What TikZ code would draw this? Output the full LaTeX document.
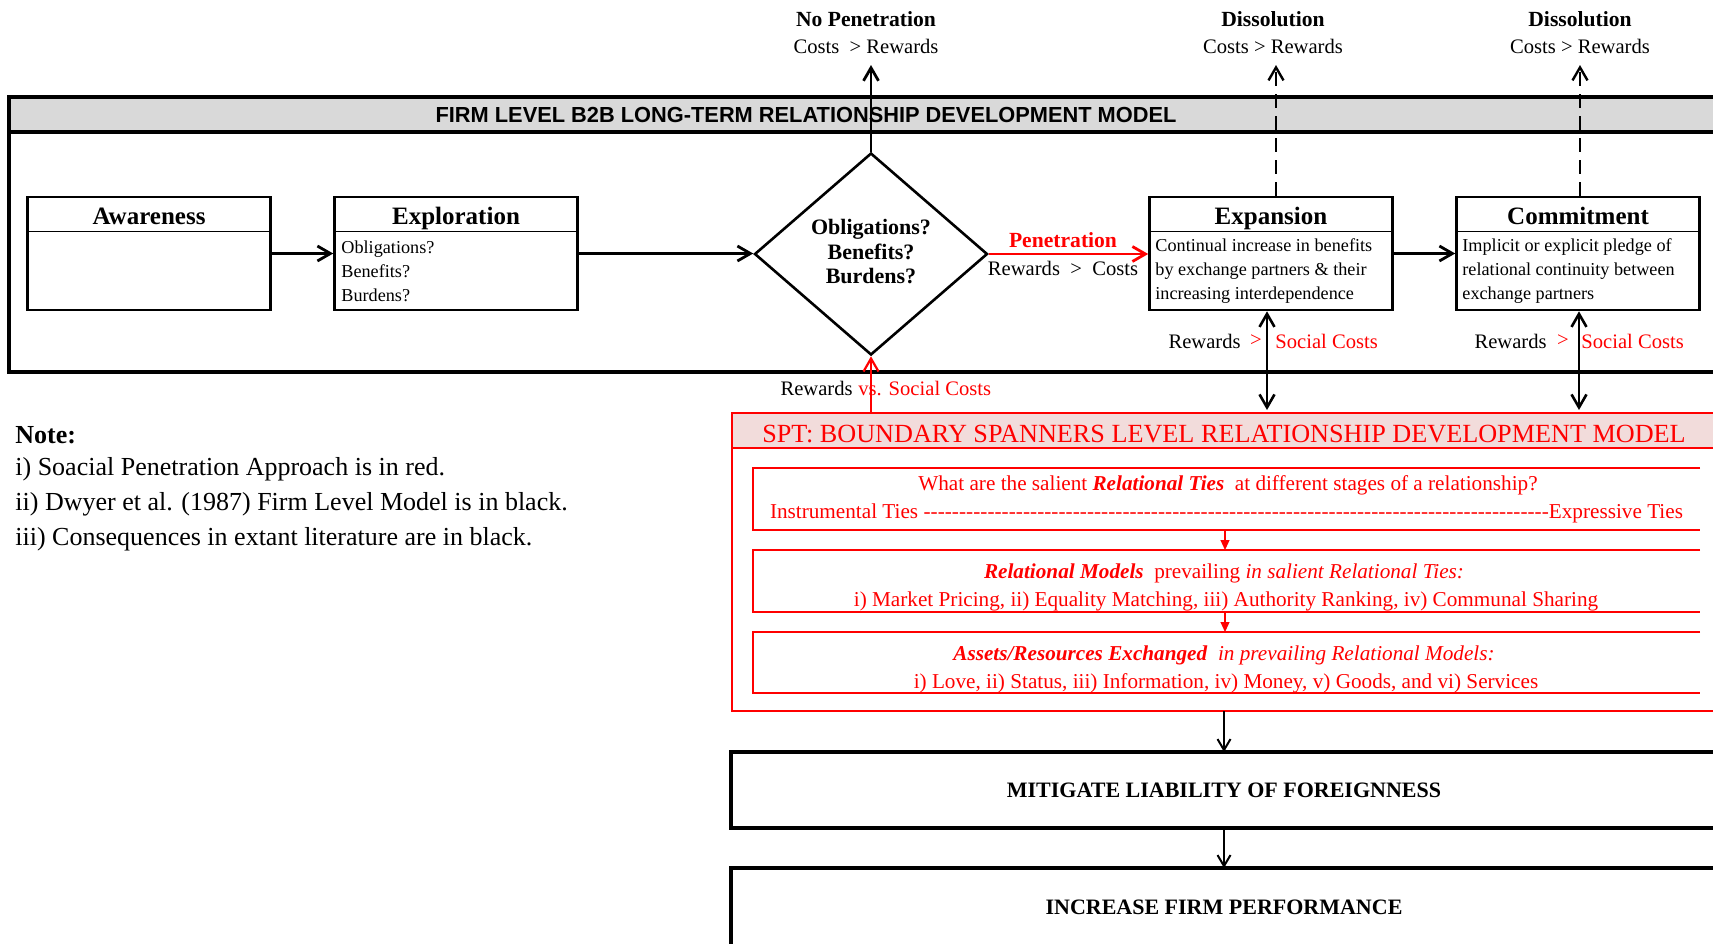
\documentclass[tikz,border=0pt]{standalone}
\usepackage{fontspec}
\setmainfont{Liberation Serif}
\newfontfamily\hdrfont{Liberation Sans}
\usetikzlibrary{arrows.meta,shapes.geometric,calc}

\definecolor{hdrgray}{HTML}{D9D9D9}
\definecolor{hdrpink}{HTML}{F2DCDB}

\tikzset{
  barb/.tip={Straight Barb[length=6.5pt,width=7.5pt]},
  stagebox/.style={draw, line width=1.3pt, minimum width=121.5pt, minimum height=56.5pt, inner sep=0pt},
  flow/.style={line width=1.4pt, -barb},
  redflow/.style={flow, draw=red},
  dual/.style={line width=1.3pt, barb-barb},
  dashup/.style={line width=1.2pt, dash pattern=on 7pt off 4pt, -barb},
  smallred/.style={draw=red, line width=0.6pt, -{Triangle[length=5pt,width=4.5pt]}},
  thinflow/.style={line width=1pt, -{Straight Barb[length=5.5pt,width=6.5pt]}},
  title/.style={font=\bfseries\fontsize{12.5}{14}\selectfont, inner sep=0pt, anchor=base},
  body/.style={font=\fontsize{9.1}{12}\selectfont, align=left, inner sep=0pt, anchor=west},
  lbl/.style={font=\fontsize{10.3}{12}\selectfont, inner sep=0pt},
  boldlbl/.style={font=\bfseries\fontsize{10.8}{12}\selectfont, inner sep=0pt},
  redtxt/.style={text=red, font=\fontsize{10.6}{12}\selectfont, inner sep=0pt},
  notetxt/.style={font=\fontsize{13}{16}\selectfont, anchor=west, inner sep=0pt},
  capbold/.style={font=\bfseries\fontsize{11}{13}\selectfont, inner sep=0pt}
}

\begin{document}
\begin{tikzpicture}[x=0.5pt,y=-0.5pt]
\useasboundingbox (0,0) rectangle (1713,943);

% ---------- firm level frame ----------
\fill[hdrgray] (9,97) rectangle (1730,132);
\draw[line width=1.6pt] (1730,97) -- (9,97) -- (9,372) -- (1730,372);
\draw[line width=1.6pt] (9,132) -- (1730,132);
\node[inner sep=0pt, font=\hdrfont\bfseries\fontsize{10.9}{13}\selectfont] (firmhdr) at (806,115)
  {FIRM LEVEL B2B LONG-TERM RELATIONSHIP DEVELOPMENT MODEL};

% ---------- stage boxes ----------
\node[stagebox] (aw) at (149,253.5) {};
\node[stagebox] (ex) at (456,253.5) {};
\node[stagebox] (xp) at (1271,253.5) {};
\node[stagebox] (cm) at (1578,253.5) {};
\foreach \b in {aw,ex,xp,cm}
  \draw[line width=0.7pt] ($(\b.north west)+(0,36)$) -- ($(\b.north east)+(0,36)$);

\node[title] at (149,224) {Awareness};
\node[title] at (456,224) {Exploration};
\node[title] at (1271,224) {Expansion};
\node[title] at (1578,224) {Commitment};

\node[body] at (341,271) {Obligations?\\Benefits?\\Burdens?};
\node[body] at (1155,271) {Continual increase in benefits\\by exchange partners \& their\\increasing interdependence};
\node[body] at (1462,271) {Implicit or explicit pledge of\\relational continuity between\\exchange partners};

% ---------- decision diamond ----------
\node[diamond, draw, line width=1.3pt, minimum width=116.5pt, minimum height=101pt, inner sep=0pt] (dm) at (871,254) {};
\node[align=center, inner sep=0pt, font=\bfseries\fontsize{11}{12.25}\selectfont] (dmtxt) at (871,252)
  {Obligations?\\Benefits?\\Burdens?};

% ---------- outcome labels on top ----------
\coordinate (npend) at (871,65);
\coordinate (dsA) at (1276,65);
\coordinate (dsB) at (1580,65);
\node[boldlbl] (nptitle) at (866,19) {No Penetration};
\node[lbl] (npcost) at (866,46) {Costs \ > Rewards};
\node[boldlbl] (dsAtitle) at (1273,19) {Dissolution};
\node[lbl] (dsAcost) at (1273,46) {Costs > Rewards};
\node[boldlbl] (dsBtitle) at (1580,19) {Dissolution};
\node[lbl] (dsBcost) at (1580,46) {Costs > Rewards};

% ---------- firm level connectors ----------
\draw[flow] (aw.east) -- (ex.west);
\draw[flow] (ex.east) -- (ex.east -| dm.west);
\draw[redflow] (dm.east) -- (dm.east -| xp.west);
\draw[flow] (xp.east) -- (cm.west);
\draw[flow] (dm.north) -- (npend);
\draw[dashup] ($(xp.north)+(5,0)$) -- (dsA);
\draw[dashup] ($(cm.north)+(2,0)$) -- (dsB);

\node[text=red, font=\bfseries\fontsize{10.8}{12}\selectfont, inner sep=0pt] (pen) at (1063,240) {Penetration};
\node[lbl] (penrc) at (1063,268) {Rewards \ > \ Costs};

% ---------- boundary spanner frame ----------
\fill[hdrpink] (732,413) rectangle (1730,448);
\draw[red, line width=1.4pt] (1730,413) -- (732,413) -- (732,711) -- (1730,711);
\draw[red, line width=1.4pt] (732,448) -- (1730,448);
\node[text=red, inner sep=0pt, font=\fontsize{13.1}{15}\selectfont] (spthdr) at (1224,434)
  {SPT: BOUNDARY SPANNERS LEVEL RELATIONSHIP DEVELOPMENT MODEL};

\coordinate (sptA) at (871,413);
\coordinate (sptB) at (1267,410);
\coordinate (sptC) at (1579,410);

\draw[dual] ($(xp.south)+(-4,0)$) -- (sptB);
\draw[dual] ($(cm.south)+(1,0)$) -- (sptC);
\draw[draw=red, line width=1.1pt, -barb] (sptA) -- (dm.south);

\node[lbl, anchor=east] (rwB) at (1241,341) {Rewards};
\node[lbl, text=red] (gtB) at (1256,341) {>};
\node[lbl, text=red, anchor=west] (scB) at (1275,341) {Social Costs};
\node[lbl, anchor=east] (rwC) at (1547,341) {Rewards};
\node[lbl, text=red] (gtC) at (1563,341) {>};
\node[lbl, text=red, anchor=west] (scC) at (1581,341) {Social Costs};
\node[lbl, anchor=east] (rwA) at (853,388) {Rewards};
\node[lbl, text=red, anchor=west] (scA) at (858,388) {vs. Social Costs};

% ---------- relational ties panels ----------
\draw[red, line width=0.7pt] (1700,468) -- (753,468) -- (753,530) -- (1700,530);
\draw[red, line width=0.7pt] (1700,550) -- (753,550) -- (753,612) -- (1700,612);
\draw[red, line width=0.7pt] (1700,632) -- (753,632) -- (753,693) -- (1700,693);
\coordinate (p1s) at (1225,530);
\coordinate (p2n) at (1225,550);
\coordinate (p2s) at (1225,612);
\coordinate (p3n) at (1225,632);
\draw[smallred] (p1s) -- (p2n);
\draw[smallred] (p2s) -- (p3n);

\node[redtxt] (q1) at (1228,485)
  {What are the salient \textbf{\textit{Relational Ties}} \ at different stages of a relationship?};
\node[redtxt] (q2) at (1226.5,513)
  {\hbox to 456.5pt{Instrumental Ties \xleaders\hbox{-}\hfill Expressive Ties}};
\node[redtxt] (m1) at (1224,573)
  {\textbf{\textit{Relational Models}} \ prevailing \textit{in salient Relational Ties:}};
\node[redtxt] (m2) at (1226,601)
  {i) Market Pricing, ii) Equality Matching, iii) Authority Ranking, iv) Communal Sharing};
\node[redtxt] (a1) at (1224,655)
  {\textbf{\textit{Assets/Resources Exchanged}} \ \textit{in prevailing Relational Models:}};
\node[redtxt] (a2) at (1226,683)
  {i) Love, ii) Status, iii) Information, iv) Money, v) Goods, and vi) Services};

% ---------- consequences ----------
\draw[line width=1.6pt] (1730,752) -- (731,752) -- (731,828) -- (1730,828);
\draw[line width=1.6pt] (1730,868) -- (731,868) -- (731,960);
\node[capbold] (mlof) at (1224,790) {MITIGATE LIABILITY OF FOREIGNNESS};
\node[capbold] (ifp) at (1224,907) {INCREASE FIRM PERFORMANCE};
\coordinate (sptS) at (1224,711);
\coordinate (mlofN) at (1224,752);
\coordinate (mlofS) at (1224,828);
\coordinate (ifpN) at (1224,868);
\draw[thinflow] (sptS) -- (mlofN);
\draw[thinflow] (mlofS) -- (ifpN);

% ---------- note ----------
\node[notetxt, font=\bfseries\fontsize{13}{16}\selectfont] (note) at (15,435) {Note:};
\node[notetxt] (n1) at (15,469) {i) Soacial Penetration Approach is in red.};
\node[notetxt] (n2) at (15,504) {ii) Dwyer et al. (1987) Firm Level Model is in black.};
\node[notetxt] (n3) at (15,539) {iii) Consequences in extant literature are in black.};
\end{tikzpicture}
\end{document}
